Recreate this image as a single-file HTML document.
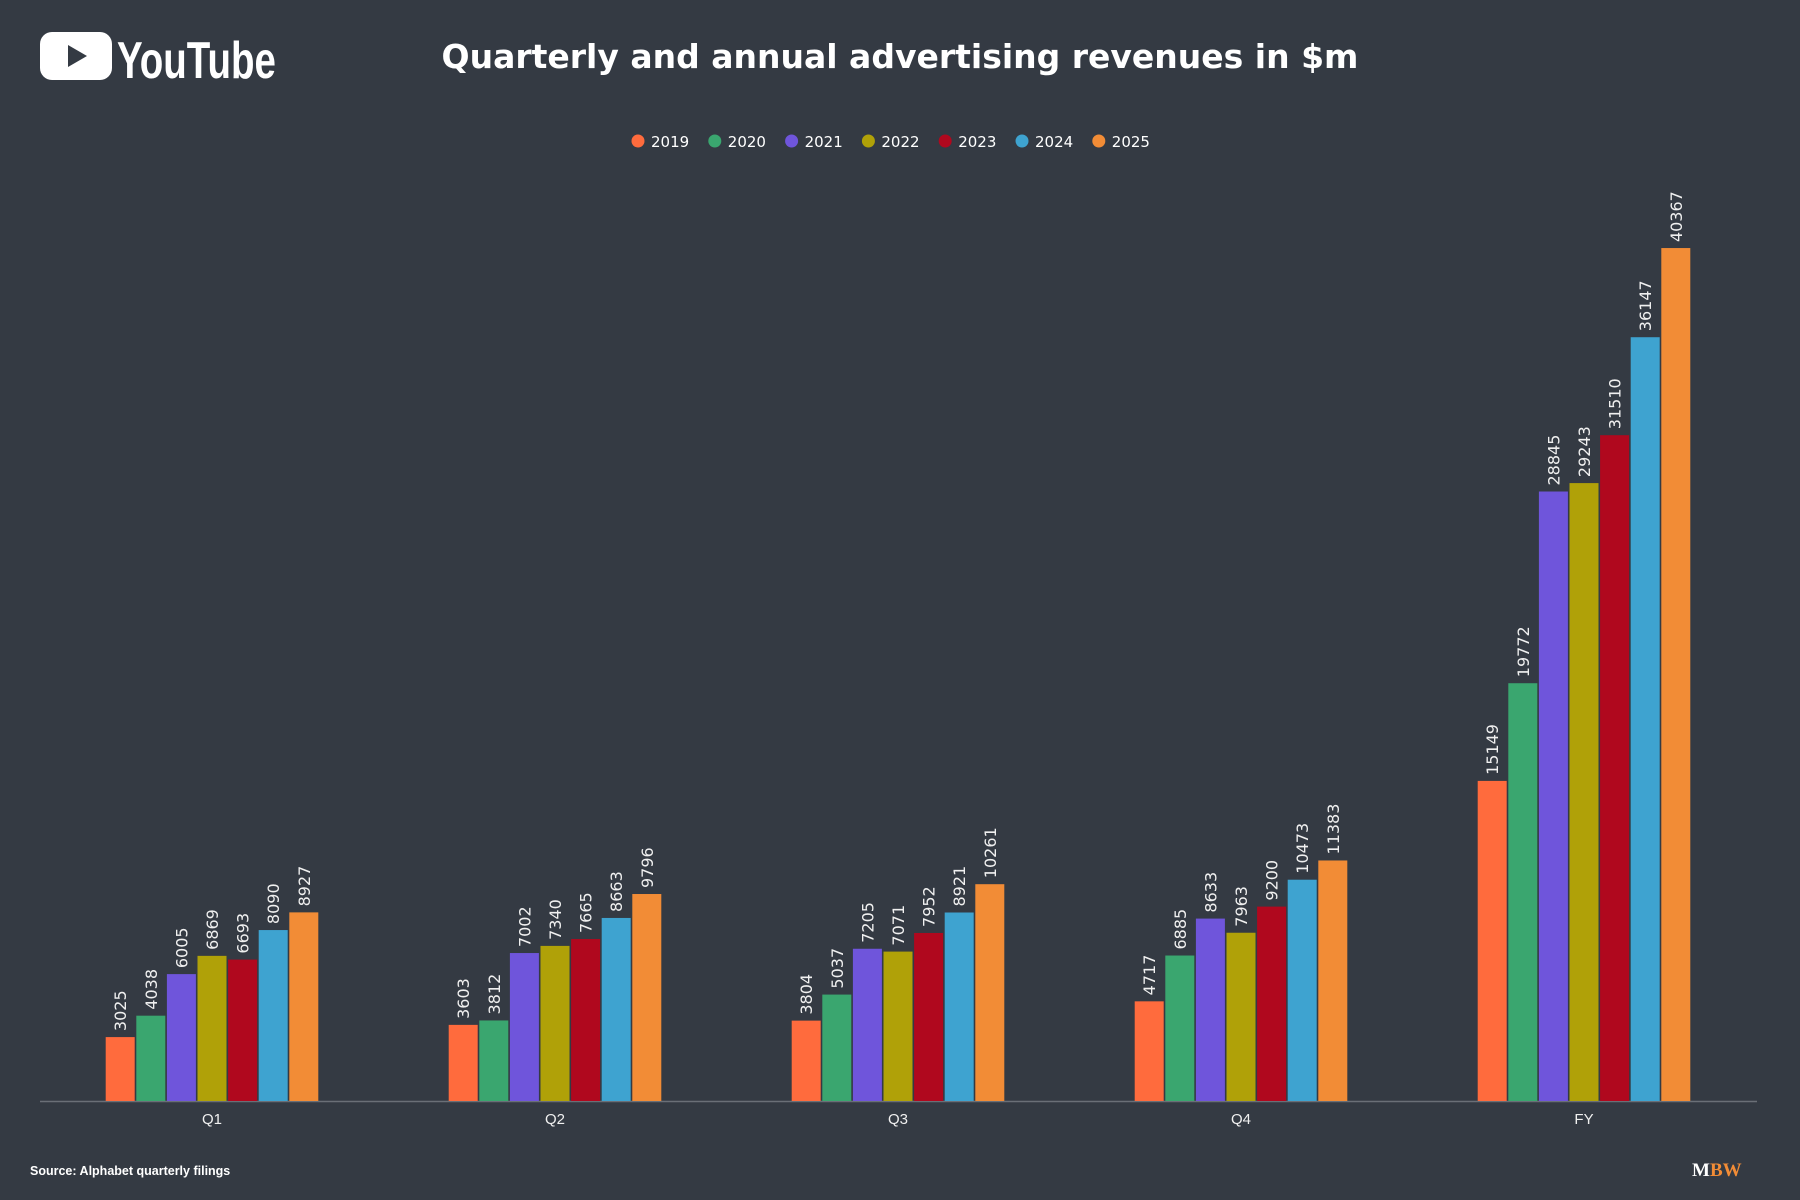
<!DOCTYPE html>
<html><head><meta charset="utf-8"><style>
body{margin:0;background:#343a43;}
svg{display:block;font-family:"DejaVu Sans","Liberation Sans",sans-serif;}
</style></head><body>
<svg width="1800" height="1200" viewBox="0 0 1800 1200" xmlns="http://www.w3.org/2000/svg">
<rect width="1800" height="1200" fill="#343a43"/>
<rect x="40" y="32" width="72" height="48" rx="12" fill="#fff"/>
<polygon points="68,45 68,67 87,56" fill="#343a43"/>
<text x="117" y="78" fill="#fff" font-family="'Liberation Sans Narrow','Liberation Sans',sans-serif" font-size="52" font-weight="bold" transform="translate(117,0) scale(0.74,1) translate(-117,0)">YouTube</text>
<text x="900" y="68" fill="#fff" font-size="33" font-weight="bold" text-anchor="middle">Quarterly and annual advertising revenues in $m</text>
<g id="legend" font-size="15" fill="#fff"></g>
<line x1="40" y1="1101.5" x2="1757" y2="1101.5" stroke="#6a6f77" stroke-width="1.5"/>
<g id="bars"></g>
<text x="30" y="1175" fill="#fff" font-family="'Liberation Sans',sans-serif" font-size="12.5" font-weight="bold">Source: Alphabet quarterly filings</text>
<text x="1692" y="1176" font-family="'Liberation Serif',serif" font-size="19" font-weight="bold"><tspan fill="#fff">M</tspan><tspan fill="#f28c36">BW</tspan></text>
<script>
const cols=["#ff6b3d","#3aa66f","#6f55db","#b0a108","#b0081e","#3ea3d0","#f28c36"];
const yrs=["2019","2020","2021","2022","2023","2024","2025"];
const cats=["Q1","Q2","Q3","Q4","FY"];
const centers=[212,555,898,1241,1584];
const data=[[3025,4038,6005,6869,6693,8090,8927],[3603,3812,7002,7340,7665,8663,9796],[3804,5037,7205,7071,7952,8921,10261],[4717,6885,8633,7963,9200,10473,11383],[15149,19772,28845,29243,31510,36147,40367]];
const ns="http://www.w3.org/2000/svg";
const g=document.getElementById("bars");
function el(t,a,txt){const e=document.createElementNS(ns,t);for(const k in a)e.setAttribute(k,a[k]);if(txt)e.textContent=txt;return e;}
const base=1101,k=0.02113,step=30.6,w=29;
data.forEach((row,i)=>{
 row.forEach((v,j)=>{
  const x=centers[i]+(j-3)*step-w/2;const h=v*k;
  g.appendChild(el("rect",{x:x,y:base-h,width:w,height:h,fill:cols[j]}));
  const cx=x+w/2+6,ty=base-h-6;
  g.appendChild(el("text",{x:cx,y:ty,fill:"#f0f0f0","font-size":"16",transform:`rotate(-90 ${cx} ${ty})`},String(v)));
 });
 g.appendChild(el("text",{x:centers[i],y:1124,fill:"#f0f0f0","font-size":"15","text-anchor":"middle","font-family":"'Liberation Sans',sans-serif"},cats[i]));
});
const L=document.getElementById("legend");
let lx=632;
yrs.forEach((y,j)=>{
 L.appendChild(el("circle",{cx:lx+6,cy:141,r:6.5,fill:cols[j]}));
 L.appendChild(el("text",{x:lx+19,y:147},y));
 lx+=76.8;
});
</script>
</svg>
</body></html>
